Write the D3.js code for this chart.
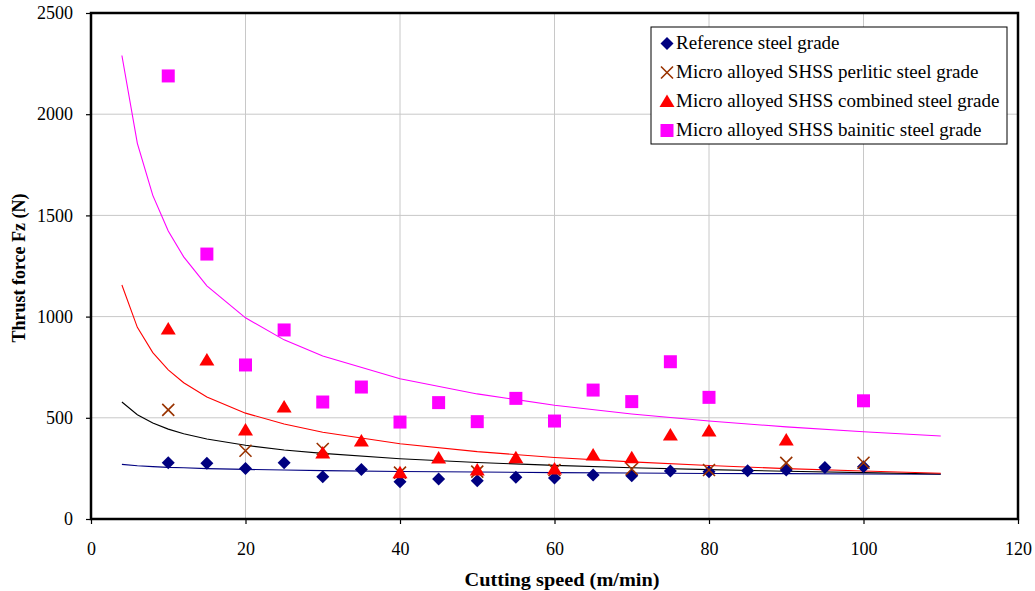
<!DOCTYPE html>
<html>
<head>
<meta charset="utf-8">
<script src="https://cdn.jsdelivr.net/npm/d3@7"></script>
<style>
  body { margin: 0; background: #fff; }
  text { font-family: "Liberation Serif", "Times New Roman", serif; fill: #000; }
</style>
</head>
<body>
<svg id="chart" width="1035" height="591"></svg>
<script>
// Data
var xTicks = [0, 20, 40, 60, 80, 100, 120];
var yTicks = [0, 500, 1000, 1500, 2000, 2500];

var refSpeed = [10, 15, 20, 25, 30, 35, 40, 45, 50, 55, 60, 65, 70, 75, 80, 85, 90, 95, 100];
var refForce = [278, 275, 250, 278, 209, 245, 184, 198, 189, 206, 202, 217, 214, 237, 234, 239, 242, 255, 258];

var perlSpeed = [10, 20, 30, 40, 50, 60, 70, 80, 90, 100];
var perlForce = [539, 337, 346, 229, 234, 242, 247, 242, 277, 278];

var combSpeed = [10, 15, 20, 25, 30, 35, 40, 45, 50, 55, 60, 65, 70, 75, 80, 90];
var combForce = [939, 786, 440, 553, 326, 385, 229, 301, 242, 303, 247, 316, 303, 415, 435, 390];

var bainSpeed = [10, 15, 20, 25, 30, 35, 40, 45, 50, 55, 60, 65, 70, 75, 80, 100];
var bainForce = [2189, 1309, 761, 934, 578, 652, 479, 575, 481, 596, 484, 637, 580, 777, 601, 584];

// trend lines, read at these speeds
var trendSpeed = [4, 6, 8, 10, 12, 15, 20, 25, 30, 40, 50, 60, 70, 80, 90, 100, 110];
var refTrend  = [270, 263, 259, 255, 253, 249, 245, 242, 239, 235, 232, 229, 227, 225, 224, 222, 221];
var perlTrend = [578, 515, 474, 444, 421, 395, 364, 341, 324, 298, 279, 265, 253, 244, 236, 229, 222];
var combTrend = [1156, 947, 822, 737, 673, 603, 523, 469, 429, 372, 333, 304, 282, 264, 249, 237, 226];
var bainTrend = [2290, 1856, 1599, 1423, 1295, 1152, 994, 885, 805, 693, 618, 562, 519, 484, 455, 431, 410];

var seriesNames = ["Reference steel grade", "Micro alloyed SHSS perlitic steel grade",
  "Micro alloyed SHSS combined steel grade", "Micro alloyed SHSS bainitic steel grade"];

// marker shapes
function diamond(s){ return "M0," + (-s) + "L" + s + ",0L0," + s + "L" + (-s) + ",0Z"; }
function cross(s){ return "M" + (-s) + "," + (-s) + "L" + s + "," + s + "M" + (-s) + "," + s + "L" + s + "," + (-s); }
function triangle(s){ return "M0," + (-s) + "L" + (s + 0.5) + "," + (s - 1.5) + "L" + (-s - 0.5) + "," + (s - 1.5) + "Z"; }
function square(s){ return "M" + (-s) + "," + (-s) + "h" + (2 * s) + "v" + (2 * s) + "h" + (-2 * s) + "Z"; }

var series = [
  { speed: refSpeed,  force: refForce,  trend: refTrend,  lineColor: "#000080", color: "#000080", shape: diamond(6.5), fill: true },
  { speed: perlSpeed, force: perlForce, trend: perlTrend, lineColor: "#000000", color: "#993300", shape: cross(6), fill: false },
  { speed: combSpeed, force: combForce, trend: combTrend, lineColor: "#FF0000", color: "#FF0000", shape: triangle(7), fill: true },
  { speed: bainSpeed, force: bainForce, trend: bainTrend, lineColor: "#FF00FF", color: "#FF00FF", shape: square(6.5), fill: true }
];

var svg = d3.select("#chart");
var plotLeft = 91, plotRight = 1018, plotTop = 13, plotBottom = 519;

var x = d3.scaleLinear().domain([0, 120]).range([plotLeft, plotRight]);
var y = d3.scaleLinear().domain([0, 2500]).range([plotBottom, plotTop]);

// grid
svg.append("g").selectAll("line").data(xTicks.slice(1, -1)).enter().append("line")
  .attr("x1", function(d){ return x(d); }).attr("x2", function(d){ return x(d); })
  .attr("y1", plotTop).attr("y2", plotBottom)
  .attr("stroke", "#c8c8c8").attr("stroke-width", 1);
svg.append("g").selectAll("line").data(yTicks.slice(1, -1)).enter().append("line")
  .attr("x1", plotLeft).attr("x2", plotRight)
  .attr("y1", function(d){ return y(d); }).attr("y2", function(d){ return y(d); })
  .attr("stroke", "#c8c8c8").attr("stroke-width", 1);

// axes
var xAxis = d3.axisBottom(x).tickValues(xTicks).tickFormat(d3.format("d")).tickSize(5).tickPadding(18);
var yAxis = d3.axisLeft(y).tickValues(yTicks).tickFormat(d3.format("d")).tickSize(5).tickPadding(13);

var gx = svg.append("g").attr("transform", "translate(0," + plotBottom + ")").call(xAxis);
var gy = svg.append("g").attr("transform", "translate(" + plotLeft + ",0)").call(yAxis);
[gx, gy].forEach(function(g){
  g.select(".domain").remove();
  g.selectAll("line").attr("stroke", "#000").attr("stroke-width", 1.2);
  g.selectAll("text").style("font-family", "Liberation Serif").style("font-size", "18px").attr("fill", "#000");
});

// trend lines
var line = d3.line()
  .x(function(d){ return x(d[0]); })
  .y(function(d){ return y(d[1]); });

series.forEach(function(s){
  svg.append("path")
    .datum(d3.zip(trendSpeed, s.trend))
    .attr("d", line)
    .attr("fill", "none")
    .attr("stroke", s.lineColor)
    .attr("stroke-width", 1.1);
});

// markers
series.forEach(function(s){
  svg.append("g").selectAll("path").data(d3.zip(s.speed, s.force)).enter().append("path")
    .attr("transform", function(d){ return "translate(" + x(d[0]) + "," + y(d[1]) + ")"; })
    .attr("d", s.shape)
    .attr("fill", s.fill ? s.color : "none")
    .attr("stroke", s.color)
    .attr("stroke-width", s.fill ? 0 : 1.6);
});

// plot frame
svg.append("rect")
  .attr("x", plotLeft).attr("y", plotTop)
  .attr("width", plotRight - plotLeft).attr("height", plotBottom - plotTop)
  .attr("fill", "none").attr("stroke", "#000").attr("stroke-width", 2.5);

// axis titles
svg.append("text")
  .attr("x", 562).attr("y", 586)
  .attr("text-anchor", "middle")
  .attr("textLength", 195).attr("lengthAdjust", "spacingAndGlyphs")
  .style("font-size", "18px").style("font-weight", "bold")
  .text("Cutting speed (m/min)");

svg.append("text")
  .attr("transform", "translate(25,268) rotate(-90)")
  .attr("text-anchor", "middle")
  .style("font-size", "18px").style("font-weight", "bold")
  .text("Thrust force Fz (N)");

// legend
var legend = svg.append("g");
legend.append("rect")
  .attr("x", 651).attr("y", 27)
  .attr("width", 356).attr("height", 117)
  .attr("fill", "#fff").attr("stroke", "#000").attr("stroke-width", 1);

var rows = legend.selectAll("g.row").data(series).enter().append("g")
  .attr("class", "row")
  .attr("transform", function(d, i){ return "translate(0," + (43.5 + i * 29) + ")"; });

rows.append("path")
  .attr("transform", "translate(667,0)")
  .attr("d", function(d){ return d.shape; })
  .attr("fill", function(d){ return d.fill ? d.color : "none"; })
  .attr("stroke", function(d){ return d.color; })
  .attr("stroke-width", function(d){ return d.fill ? 0 : 1.6; });

rows.append("text")
  .attr("x", 676).attr("y", 5.5)
  .style("font-size", "19px")
  .text(function(d, i){ return seriesNames[i]; });
</script>
</body>
</html>
